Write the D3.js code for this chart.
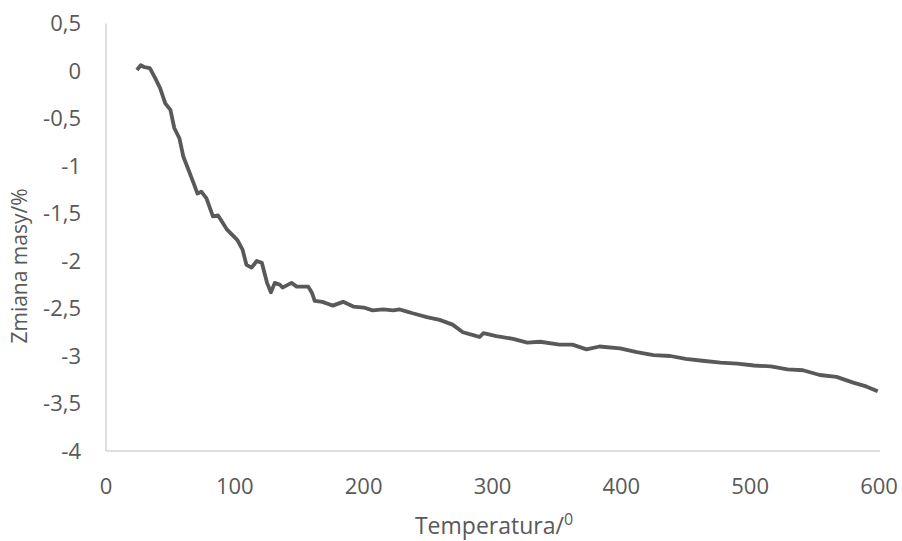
<!DOCTYPE html>
<meta charset="utf-8" />
<style>
  body { margin: 0; background: #fff; }
  text { font-family: "Open Sans", "Noto Sans", sans-serif; fill: #595959; }
</style>
<svg width="902" height="541"></svg>
<script src="https://d3js.org/d3.v7.min.js"></script>
<script>
  // temperature readings and mass change (%)
  const temperature = [24, 27, 30, 34, 38, 42, 46, 50, 53, 57, 60, 64, 68, 71, 74, 78, 83, 87, 94, 102, 106,
    109, 113, 117, 121, 125, 128, 131, 135, 137, 144, 148, 157, 160, 162, 168, 172, 176, 184, 192, 200, 207,
    215, 223, 228, 233, 238, 249, 259, 269, 277, 285, 290, 293, 303, 316, 327, 337, 352, 362, 373, 383,
    399, 412, 425, 438, 450, 463, 477, 490, 503, 516, 529, 541, 554, 567, 580, 590, 599];
  const massChange = [0.01, 0.06, 0.04, 0.03, -0.07, -0.18, -0.34, -0.41, -0.6, -0.71, -0.9, -1.04, -1.18,
    -1.29, -1.27, -1.34, -1.53, -1.52, -1.67, -1.78, -1.88,
    -2.04, -2.07, -2.0, -2.02, -2.23, -2.33, -2.23, -2.25, -2.28, -2.23, -2.27, -2.27, -2.34, -2.42, -2.43,
    -2.45, -2.47, -2.43, -2.48, -2.49, -2.52, -2.51, -2.52, -2.51, -2.53, -2.55, -2.59, -2.62, -2.67, -2.75,
    -2.78, -2.8, -2.76, -2.79, -2.82, -2.86, -2.85, -2.88, -2.88, -2.93, -2.9, -2.92, -2.96, -2.99, -3.0,
    -3.03, -3.05, -3.07, -3.08, -3.1, -3.11, -3.14, -3.15, -3.2, -3.22, -3.28, -3.32, -3.37];
  const xTicks = [0, 100, 200, 300, 400, 500, 600];
  const yTicks = [0.5, 0, -0.5, -1, -1.5, -2, -2.5, -3, -3.5, -4];

  const svg = d3.select('svg');
  const x = d3.scaleLinear().domain([0, 600]).range([106, 879]);
  const y = d3.scaleLinear().domain([-4, 0.5]).range([451, 23.5]);
  const fmt = d => String(d).replace('.', ',');

  // axes lines
  svg.append('line')
    .attr('x1', x(0)).attr('x2', x(0))
    .attr('y1', y(0.5)).attr('y2', y(-4))
    .attr('stroke', '#bfbfbf');
  svg.append('line')
    .attr('x1', x(0)).attr('x2', x(600) + 1)
    .attr('y1', y(-4)).attr('y2', y(-4))
    .attr('stroke', '#bfbfbf');

  svg.append('g').selectAll('text')
    .data(yTicks)
    .join('text')
    .attr('x', 81)
    .attr('y', d => y(d))
    .attr('dy', '0.36em')
    .attr('text-anchor', 'end')
    .attr('font-size', 22)
    .text(fmt);

  svg.append('g').selectAll('text')
    .data(xTicks)
    .join('text')
    .attr('x', d => x(d))
    .attr('y', 494)
    .attr('text-anchor', 'middle')
    .attr('font-size', 22)
    .text(fmt);

  const xt = svg.append('text')
    .attr('x', 494)
    .attr('y', 534)
    .attr('text-anchor', 'middle')
    .attr('font-size', 23);
  xt.append('tspan').text('Temperatura/');
  xt.append('tspan').attr('font-size', 16).attr('dy', -9).text('0');

  svg.append('text')
    .attr('transform', 'translate(27,' + 266 + ') rotate(-90)')
    .attr('text-anchor', 'middle')
    .attr('font-size', 21)
    .text('Zmiana masy/%');

  const line = d3.line()
    .x((d, i) => x(temperature[i]))
    .y(d => y(d));

  svg.append('path')
    .datum(massChange)
    .attr('fill', 'none')
    .attr('stroke', '#595959')
    .attr('stroke-width', 3.8)
    .attr('stroke-linejoin', 'round')
    .attr('d', line);
</script>
